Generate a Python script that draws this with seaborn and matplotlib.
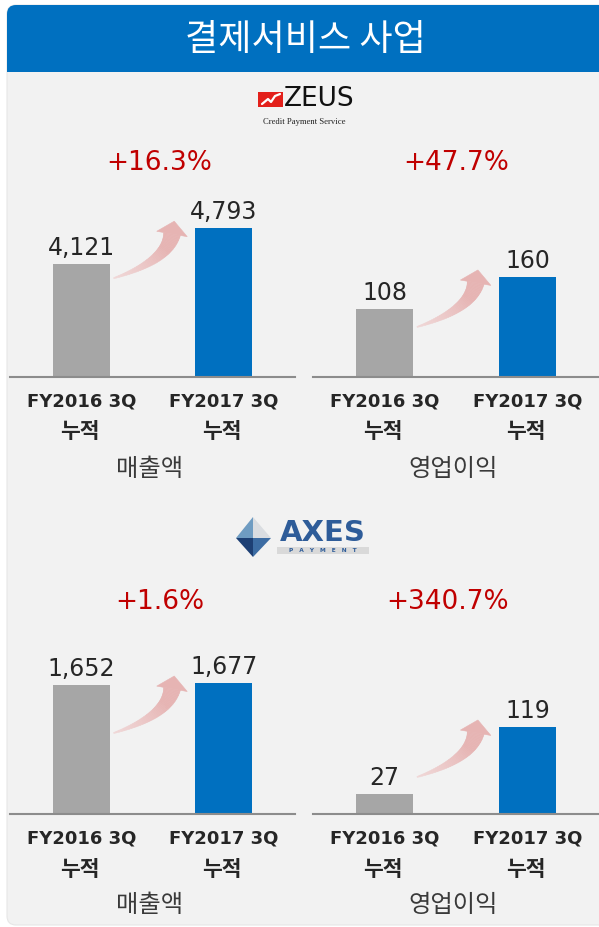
import matplotlib
matplotlib.use("Agg")
import numpy as np
import matplotlib.pyplot as plt
from matplotlib.patches import FancyBboxPatch, Rectangle, Polygon
from matplotlib.transforms import IdentityTransform, blended_transform_factory
from matplotlib.colors import to_rgb
import seaborn as sns
import pandas as pd

# ---------------- data ----------------
periods = ["FY2016 3Q", "FY2017 3Q"]
period_sub = ["누적", "누적"]
zeus_sales = [4121, 4793]
zeus_profit = [108, 160]
axes_sales = [1652, 1677]
axes_profit = [27, 119]
zeus_growth = ["+16.3%", "+47.7%"]
axes_growth = ["+1.6%", "+340.7%"]
metric_labels = ["매출액", "영업이익"]
title = "결제서비스 사업"

# ---------------- style ----------------
sns.set_style("white")
FAM = ["DejaVu Sans", "Noto Sans CJK KR"]
KFAM = ["Noto Sans CJK KR", "DejaVu Sans"]
plt.rcParams["font.family"] = FAM

GRAY = "#A6A6A6"
BLUE = "#0070C0"
RED = "#C00000"
PANEL = "#F2F2F2"
W, H = 599, 927
PT = 72 / 100  # points per pixel at dpi 100

fig = plt.figure(figsize=(W / 100, H / 100), dpi=100)
fig.patch.set_facecolor("white")
px = IdentityTransform()


def py(y):  # pixel y from top -> display y
    return H - y


# panel background and banner
fig.patches.append(FancyBboxPatch((7, py(925)), 640, 920, boxstyle="round,pad=0,rounding_size=9",
                                  transform=px, facecolor=PANEL, edgecolor="#E6E6E6", lw=0.8, zorder=0))
fig.patches.append(FancyBboxPatch((7, py(72)), 640, 67, boxstyle="round,pad=0,rounding_size=9",
                                  transform=px, facecolor=BLUE, edgecolor="none", zorder=1))
fig.patches.append(Rectangle((7, py(72)), 640, 30, transform=px, facecolor=BLUE, edgecolor="none", zorder=1))
fig.text(305, py(40), title, transform=px, ha="center", va="center", color="white",
         fontsize=26, family=KFAM, zorder=3)

# ZEUS logo
fig.patches.append(Rectangle((258, py(107)), 25, 15, transform=px, facecolor="#E3201B", edgecolor="none", zorder=2))
fig.lines.append(plt.Line2D([262, 268, 271, 275, 280], [py(104), py(99), py(102), py(96), py(94)],
                            transform=px, color="white", lw=1.6, zorder=3))
fig.text(284, py(99.5), "ZEUS", transform=px, ha="left", va="center", fontsize=19,
         family=["Liberation Sans Narrow", "DejaVu Sans"], color="#111111", zorder=3)
fig.text(304, py(122), "Credit Payment Service", transform=px, ha="center", va="center",
         fontsize=6.2, family=["Liberation Serif"], color="#222222", zorder=3)

# AXES logo
top, left, right, bottom, mid = (253, py(517)), (236, py(538)), (271, py(538)), (253, py(557)), (253, py(538))
fig.patches.append(Polygon([top, left, mid], closed=True, transform=px, facecolor="#6F9CC2", edgecolor="none", zorder=2))
fig.patches.append(Polygon([top, mid, right], closed=True, transform=px, facecolor="#DADDE1", edgecolor="none", zorder=2))
fig.patches.append(Polygon([left, mid, bottom], closed=True, transform=px, facecolor="#1D3F74", edgecolor="none", zorder=2))
fig.patches.append(Polygon([mid, right, bottom], closed=True, transform=px, facecolor="#3C6CA3", edgecolor="none", zorder=2))
fig.text(323, py(533), "AXES", transform=px, ha="center", va="center", fontsize=21,
         family=["DejaVu Sans"], weight="bold", color="#2E5C99", zorder=3)
fig.patches.append(Rectangle((277, py(554)), 92, 7, transform=px, facecolor="#D9D9D9", edgecolor="none", zorder=2))
fig.text(323, py(550.5), "P   A   Y   M   E   N   T", transform=px, ha="center", va="center", fontsize=4.2,
         family=["DejaVu Sans"], color="#2E5C99", weight="bold", zorder=3)


def curved_arrow(ax, tail, tip, a0=18, a1=80, head_len=13, head_w=31, w0=1.0, w1=17,
                 c0="#F0D8D8", c1="#E6B4B3", n=40):
    """Tapered curved block arrow in display pixels, from tail to tip."""
    tail = np.asarray(tail, float)
    tip = np.asarray(tip, float)
    d1 = np.array([np.cos(np.radians(a1)), np.sin(np.radians(a1))])
    d0 = np.array([np.cos(np.radians(a0)), np.sin(np.radians(a0))])
    base = tip - head_len * d1
    A = np.column_stack([d0, d1])
    s, t = np.linalg.solve(A, base - tail)
    ctrl = tail + s * d0
    u = np.linspace(0, 1, n + 1)
    pts = ((1 - u) ** 2)[:, None] * tail + (2 * u * (1 - u))[:, None] * ctrl + (u ** 2)[:, None] * base
    der = (2 * (1 - u))[:, None] * (ctrl - tail) + (2 * u)[:, None] * (base - ctrl)
    der /= np.linalg.norm(der, axis=1)[:, None]
    nrm = np.column_stack([-der[:, 1], der[:, 0]])
    wid = w0 + (w1 - w0) * u
    L = pts + nrm * (wid / 2)[:, None]
    R = pts - nrm * (wid / 2)[:, None]
    ca, cb = np.array(to_rgb(c0)), np.array(to_rgb(c1))
    for i in range(n):
        col = ca + (cb - ca) * min(1.0, (i + 0.5) / n * 1.4)
        quad = [L[i], L[i + 1], R[i + 1], R[i]]
        ax.add_patch(Polygon(quad, closed=True, transform=px, facecolor=col,
                             edgecolor=col, lw=0.4, zorder=3, clip_on=False))
    nend = nrm[-1]
    head = [base + nend * head_w / 2, tip, base - nend * head_w / 2]
    ax.add_patch(Polygon(head, closed=True, transform=px, facecolor=c1, edgecolor=c1,
                         lw=0.4, zorder=3, clip_on=False))


# ---------------- charts ----------------
panels = [
    # (values, growth, metric, rect px (x0, ytop, w, h), ymin, ymax, growth x frac)
    (zeus_sales, zeus_growth[0], metric_labels[0], (10, 140, 285, 237), 2000, 6448, 0.525),
    (zeus_profit, zeus_growth[1], metric_labels[1], (313, 140, 286, 237), 0, 379, 0.50),
    (axes_sales, axes_growth[0], metric_labels[0], (10, 580, 285, 234), 0, 2996, 0.525),
    (axes_profit, axes_growth[1], metric_labels[1], (313, 580, 286, 234), 0, 320, 0.47),
]
BAR_W = 0.4

for vals, growth, metric, (x0, ytop, w, h), ymin, ymax, gx in panels:
    ax = fig.add_axes([x0 / W, (H - ytop - h) / H, w / W, h / H])
    ax.set_zorder(5)
    ax.set_facecolor("none")
    df = pd.DataFrame({"period": periods, "value": vals})
    sns.barplot(data=df, x="period", y="value", hue="period", palette=[GRAY, BLUE],
                width=BAR_W, legend=False, ax=ax, saturation=1, linewidth=0, edgecolor="none")
    ax.set_xlim(-0.5, 1.5)
    ax.set_ylim(ymin, ymax)
    ax.set_yticks([])
    ax.set_ylabel("")
    for s in ["top", "left", "right"]:
        ax.spines[s].set_visible(False)
    ax.spines["bottom"].set_color("#8C8C8C")
    ax.spines["bottom"].set_linewidth(1.5)
    ax.tick_params(axis="x", length=0, pad=15.5 * PT)
    for lab in ax.get_xticklabels():
        lab.set_fontsize(13)
        lab.set_fontweight("bold")
        lab.set_color("#262626")
    # second line of each period label ("누적")
    xb = blended_transform_factory(ax.transData, ax.transAxes)
    for i, sub in enumerate(period_sub):
        ax.annotate(sub, xy=(i, 0), xycoords=xb, xytext=(-1, -55 * PT), textcoords="offset points",
                    ha="center", va="center", fontsize=15.5, weight="bold", color="#262626",
                    family=KFAM, annotation_clip=False)
    ax.set_xlabel(metric, fontsize=17.5, color="#3A3A3A", family=KFAM)
    ax.xaxis.set_label_coords(0.49, -91.5 / h)
    ax.xaxis.label.set_va("center")

    # value labels
    for i, v in enumerate(vals):
        ax.annotate(f"{v:,}", xy=(i, v), xytext=(0, 6.5), textcoords="offset points",
                    ha="center", va="baseline", fontsize=17, color="#262626")
    # growth rate
    ax.text(gx, 0.905, growth, transform=ax.transAxes, ha="center", va="center",
            fontsize=19, color=RED)
    # curved arrow between bars (anchored on the bars' edges and the second bar's top)
    p_tail = ax.transData.transform((0 + BAR_W / 2, vals[1]))
    p_tip = ax.transData.transform((1 - BAR_W / 2, vals[1]))
    curved_arrow(ax, (p_tail[0] + 4, p_tail[1] - 50), (p_tip[0] - 21, p_tip[1] + 7))

fig.savefig("out.png", dpi=100, facecolor=fig.get_facecolor())
